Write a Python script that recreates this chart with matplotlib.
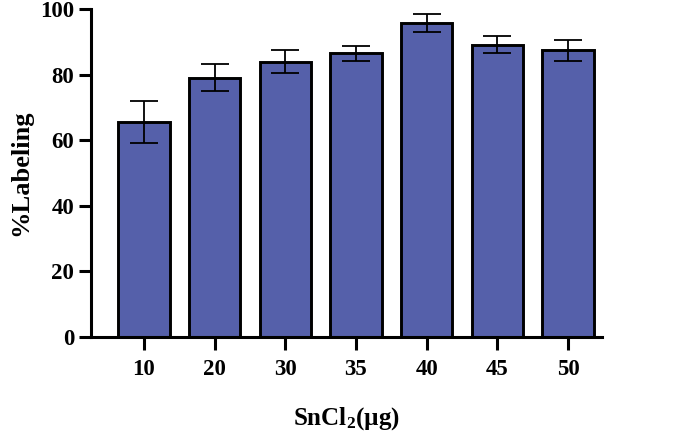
import matplotlib.pyplot as plt
import numpy as np

plt.rcParams['font.family'] = 'Liberation Serif'
plt.rcParams['font.weight'] = 'bold'
plt.rcParams['mathtext.fontset'] = 'custom'
plt.rcParams['mathtext.rm'] = 'Liberation Serif:bold'
plt.rcParams['mathtext.it'] = 'Liberation Serif:bold'
plt.rcParams['mathtext.bf'] = 'Liberation Serif:bold'

doses = ['10', '20', '30', '35', '40', '45', '50']
labeling = [65.6, 79.1, 84.0, 86.5, 95.8, 89.1, 87.5]
errors = [6.5, 4.2, 3.5, 2.2, 2.7, 2.6, 3.2]

fig = plt.figure(figsize=(6.84, 4.34), dpi=100)
ax = fig.add_axes([0.133, 0.2235, 0.747, 0.7555])

x = np.arange(len(doses))
ax.bar(x, labeling, width=0.73, color='#5560AA', edgecolor='black', linewidth=2.1, zorder=2)
ax.errorbar(x, labeling, yerr=errors, fmt='none', ecolor='black', elinewidth=1.3,
            capsize=10, capthick=1.3, zorder=3)

ax.set_xlim(-0.75, 6.48)
ax.set_ylim(0, 100)
ax.set_yticks([0, 20, 40, 60, 80, 100])
ax.set_xticks(x)
ax.set_xticklabels(doses)

for s in ['top', 'right']:
    ax.spines[s].set_visible(False)
for s in ['left', 'bottom']:
    ax.spines[s].set_linewidth(2.2)
ax.tick_params(width=2.2, length=9, labelsize=16.5, pad=3)
ax.tick_params(axis='x', pad=7)

ax.set_ylabel('%Labeling', fontsize=19, fontweight='bold', labelpad=6)
ax.set_xlabel('SnCl$_2$(µg)', fontsize=18, fontweight='bold', labelpad=18)

fig.savefig('out.png', dpi=100)
